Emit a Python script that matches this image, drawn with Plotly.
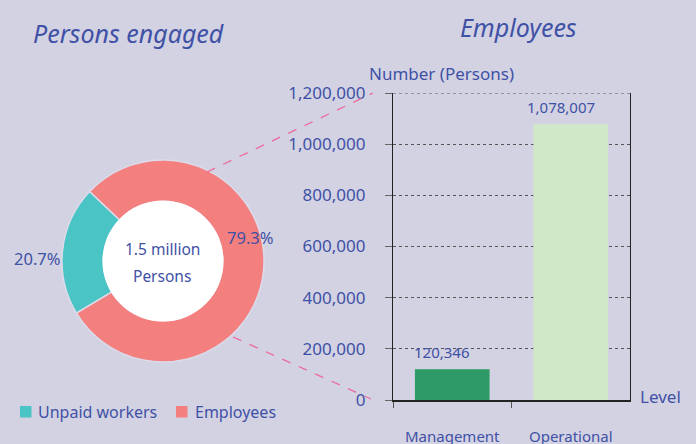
import plotly.graph_objects as go

# ---- data ----
donut_labels = ["Unpaid workers", "Employees"]
donut_values = [20.7, 79.3]
donut_colors = ["#4BC4C6", "#F47F7F"]
center_lines = ["1.5 million", "Persons"]

bar_categories = ["Management", "Operational"]
bar_values = [120346, 1078007]
bar_colors = ["#2E9A65", "#D1E8C8"]
y_ticks = [0, 200000, 400000, 600000, 800000, 1000000, 1200000]

W, H = 696, 444
BG = "#D3D2E3"
TXT = "#3F51A5"
FONT = "Noto Sans"


def px(x):
    return x / W


def py(y):
    return (H - y) / H


def note(x, y, text, size, xanchor="center", yanchor="middle"):
    fig.add_annotation(x=px(x), y=py(y), xref="paper", yref="paper",
                       text=text, showarrow=False, xanchor=xanchor, yanchor=yanchor,
                       font=dict(family=FONT, size=size, color=TXT))


fig = go.Figure()

# donut
cx, cy, R = 163, 261, 101
HOLE = 0.59
fig.add_trace(go.Pie(
    labels=donut_labels, values=donut_values,
    marker=dict(colors=donut_colors, line=dict(color="#DCDBEA", width=1.5)),
    hole=HOLE, sort=False, direction="counterclockwise", rotation=-121.1,
    textinfo="none", hoverinfo="label+percent",
    domain=dict(x=[px(cx - R), px(cx + R)], y=[py(cy + R), py(cy - R)]),
    showlegend=False,
))

# bars
fig.add_trace(go.Bar(
    x=bar_categories, y=bar_values, marker=dict(color=bar_colors, line=dict(width=0)),
    width=0.63, showlegend=False, xaxis="x", yaxis="y",
))

for c, v in zip(bar_categories, bar_values):
    fig.add_annotation(x=c, y=v, xref="x", yref="y", text=f"{v:,}",
                       showarrow=False, xanchor="center", yanchor="bottom",
                       yshift=5, xshift=-10,
                       font=dict(family=FONT, size=15, color=TXT))

# percent labels
note(37, 258, f"{donut_values[0]}%", 16.5)
note(250, 237, f"{donut_values[1]}%", 16.5)

# center text
note(162, 249, center_lines[0], 15.5)
note(162, 276, center_lines[1], 15.5)

# titles and axis labels
note(128, 33, "<i>Persons engaged</i>", 25)
note(518, 27, "<i>Employees</i>", 25)
note(441, 74, "Number (Persons)", 17)
note(638, 396, "Level", 17, xanchor="left")

# manual legend
legend_sq_x = [20, 176]
legend_txt_x = [36, 193]
for lbl, tx in zip(donut_labels, legend_txt_x):
    note(tx, 412, lbl, 16, xanchor="left")

hr = HOLE * R + 1
shapes = [
    # white hole
    dict(type="circle", xref="paper", yref="paper", layer="above",
         x0=px(cx - hr), x1=px(cx + hr), y0=py(cy + hr), y1=py(cy - hr),
         fillcolor="white", line=dict(width=0)),
    # connector lines
    dict(type="line", xref="paper", yref="paper",
         x0=px(207), y0=py(172), x1=px(373), y1=py(93),
         line=dict(color="#EC6A9A", width=1.3, dash="dash")),
    dict(type="line", xref="paper", yref="paper",
         x0=px(233), y0=py(337), x1=px(371), y1=py(399),
         line=dict(color="#EC6A9A", width=1.3, dash="dash")),
    # top dotted gridline
    dict(type="line", xref="x domain", yref="y", x0=0, x1=1,
         y0=y_ticks[-1], y1=y_ticks[-1],
         line=dict(color="#555", width=1, dash="dot")),
]
for col, sx in zip(donut_colors, legend_sq_x):
    shapes.append(dict(type="rect", xref="paper", yref="paper",
                       x0=px(sx), x1=px(sx + 11.5), y0=py(417.5), y1=py(406),
                       fillcolor=col, line=dict(width=0)))

fig.update_layout(
    width=W, height=H, margin=dict(l=0, r=0, t=0, b=0, pad=0),
    paper_bgcolor=BG, plot_bgcolor=BG,
    font=dict(family=FONT, color=TXT),
    shapes=shapes,
    showlegend=False,
    xaxis=dict(domain=[px(393), px(630)], showgrid=False, showline=True,
               linecolor="#222", linewidth=1.5, ticks="outside", ticklen=6,
               tickcolor="#555", tickson="boundaries", ticklabelstandoff=22,
               tickfont=dict(family=FONT, size=15, color=TXT), automargin=False,
               fixedrange=True),
    yaxis=dict(domain=[py(400), py(93)], range=[0, 1200000], tickvals=y_ticks,
               tickformat=",d", showgrid=True, gridcolor="#555", griddash="dot",
               gridwidth=1, showline=True, linecolor="#222", linewidth=1.2,
               mirror=True, ticks="outside", ticklen=7, tickcolor="#666",
               ticklabelstandoff=16, zeroline=False,
               tickfont=dict(family=FONT, size=17, color=TXT), automargin=False,
               fixedrange=True),
)

fig.write_html("out.html",
               config={"displayModeBar": False},
               post_script="document.body.style.margin='0px';document.body.style.overflow='hidden';")
